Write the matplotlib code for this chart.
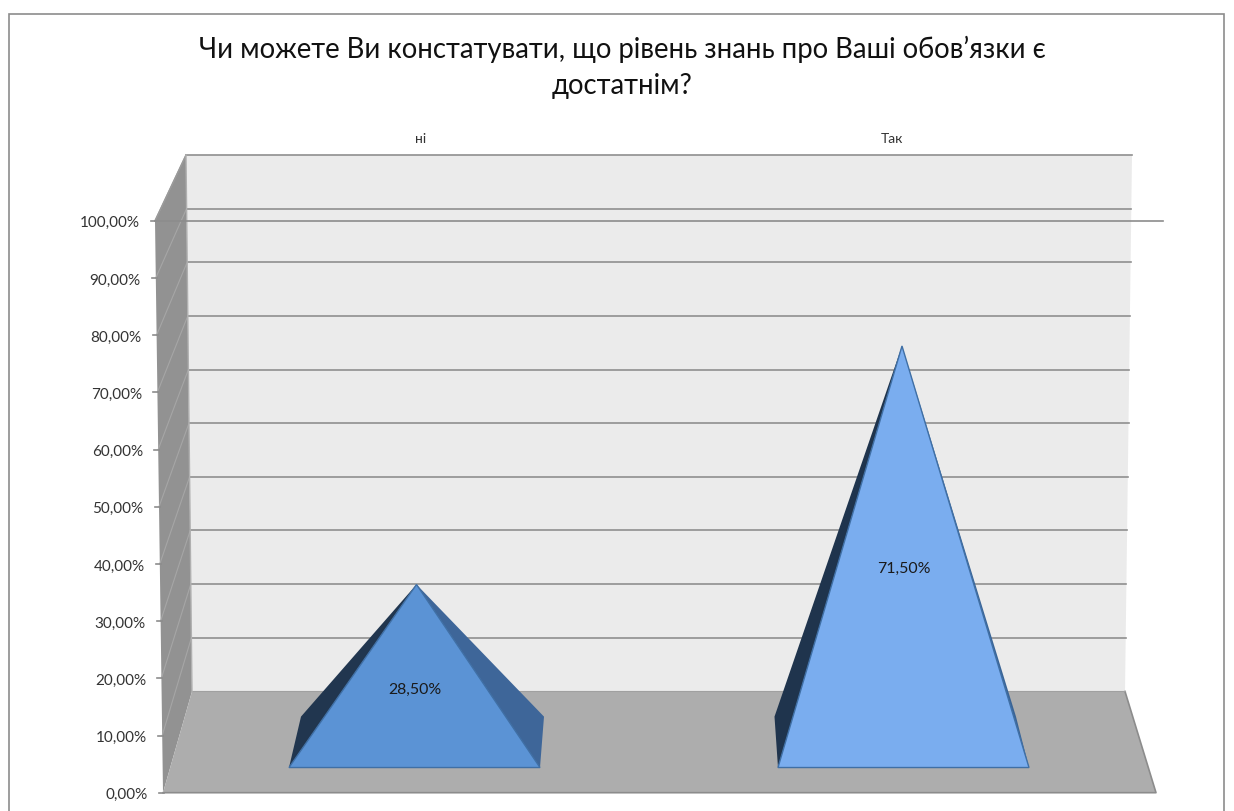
import matplotlib
matplotlib.use("Agg")
import matplotlib.pyplot as plt
from matplotlib.transforms import ScaledTranslation

plt.rcParams['font.family'] = ['Lato', 'Open Sans', 'DejaVu Sans']

W, H = 1234, 812

title = "Чи можете Ви констатувати, що рівень знань про Ваші обов’язки є\nдостатнім?"
categories = ["ні", "Так"]
values = [28.5, 71.5]
# apex heights as read on the front axis (the picture is in perspective)
apex = [36.4, 78.1]
ticks = [0, 10, 20, 30, 40, 50, 60, 70, 80, 90, 100]

# geometry in front axis units: y is percent, x is category position
wall_low, wall_high = 17.7, 111.5
base = 4.4
rear_base = 13.3


def px_x(p):
    return (p - 414.5) / 489.0


fig = plt.figure(figsize=(W / 100, H / 100), dpi=100)
fig.patch.set_facecolor("white")

# chart border
fig.add_artist(plt.Rectangle((9 / W, -0.01), 1215 / W, 1 - 14.5 / H + 0.01, fill=False,
                             ec="#8c8c8c", lw=1.2, transform=fig.transFigure))

ax = fig.add_axes([155 / W, 1 - 793.7 / H, (1163 - 155) / W, (793 - 221) / H])
ax.set_xlim(px_x(155), px_x(1163))
ax.set_ylim(0, 100)
ax.patch.set_visible(False)
for s in ax.spines.values():
    s.set_visible(False)
ax.set_xticks([])

left_front = lambda v: px_x(163 - 8 * v / 100.0)
left_back = lambda v: px_x(192 - 6 * v / 100.0)
right_back = lambda v: px_x(1125 + 7 * v / 100.0)
wall_y = lambda v: wall_low + (wall_high - wall_low) * v / 100.0

# side wall, back wall, floor
ax.fill([left_front(0), left_front(100), left_back(100), left_back(0)],
        [0, 100, wall_high, wall_low], color="#929292", lw=0, clip_on=False, zorder=1)
ax.fill([left_back(0), left_back(100), right_back(100), right_back(0)],
        [wall_low, wall_high, wall_high, wall_low], color="#ebebeb", lw=0, clip_on=False, zorder=1)
ax.fill([left_front(0), left_back(0), right_back(0), px_x(1156)],
        [0, wall_low, wall_low, 0], color="#adadad", lw=0, clip_on=False, zorder=1)
ax.plot([left_front(0), px_x(1156), right_back(0)], [0, 0, wall_low],
        color="#8c8c8c", lw=1.2, clip_on=False, zorder=2)
ax.plot([left_back(0), right_back(0)], [wall_low, wall_low], color="#a0a0a0", lw=0.8,
        clip_on=False, zorder=2)

# gridlines on the back wall and on the side wall
for t in ticks[1:]:
    ax.plot([left_back(t), right_back(t)], [wall_y(t), wall_y(t)], color="#8f8f8f", lw=1.2,
            clip_on=False, zorder=2)
    ax.plot([left_front(t), left_back(t)], [t, wall_y(t)], color="#a6a6a6", lw=0.8,
            clip_on=False, zorder=2)
ax.plot([left_front(100), left_back(100)], [100, wall_high], color="#9a9a9a", lw=1,
        clip_on=False, zorder=2)
ax.plot([left_back(0), left_back(100)], [wall_low, wall_high], color="#b0b0b0", lw=1,
        clip_on=False, zorder=2)

# the 100 % line runs across the front of the chart
ax.axhline(100, color="#8c8c8c", lw=1.2, zorder=2, clip_on=False)

# y axis: real ticks, shifted so they follow the slanted edge
ax.set_yticks(ticks)
ax.set_yticklabels([("%.2f%%" % t).replace(".", ",") for t in ticks], fontsize=11, color="#333333")
ax.tick_params(axis="y", length=0, pad=11)
for t, lab in zip(ticks, ax.get_yticklabels()):
    shift = (8 - 8 * t / 100.0) / 100
    lab.set_transform(lab.get_transform() + ScaledTranslation(shift, 0, fig.dpi_scale_trans))
    ax.plot([left_front(t) - 4 / 489.0, left_front(t) + 1 / 489.0], [t, t], color="#8c8c8c", lw=1.2,
            clip_on=False, zorder=3)

# pyramids
half = 125.5 / 489.0
front_colors = ["#5b93d5", "#7aadef"]
left_colors = ["#21364f", "#1f344d"]
right_colors = ["#3e6699", "#3a6496"]
apex_shift = [2.0, -1.5]
rear_left = [12, -3.5]
rear_right = [4, -13]
label_y = [18.2, 39.3]
for i, cat in enumerate(categories):
    l, r = i - half, i + half
    top = i + apex_shift[i] / 489.0
    rl = l + rear_left[i] / 489.0
    rr = r + rear_right[i] / 489.0
    ax.fill([l, rl, top], [base, rear_base, apex[i]], color=left_colors[i], lw=0, zorder=4)
    ax.fill([r, rr, top], [base, rear_base, apex[i]], color=right_colors[i], lw=0, zorder=4)
    ax.fill([l, r, top], [base, base, apex[i]], fc=front_colors[i], ec="#3f6fa5", lw=1,
            joinstyle="miter", zorder=5)
    ax.text(i, label_y[i], ("%.2f%%" % values[i]).replace(".", ","),
            ha="center", va="center", fontsize=11.4, color="#1a1a1a", zorder=6)

# category labels sit above the wall
ax.text(px_x(421), 114.5, categories[0], ha="center", va="center", fontsize=10, color="#333333")
ax.text(px_x(892), 114.5, categories[1], ha="center", va="center", fontsize=10, color="#333333")

fig.text(622 / W, 1 - 67.5 / H, title, ha="center", va="center", fontsize=19.8, color="#111111",
         linespacing=1.5)

fig.savefig("out.png", dpi=100)
